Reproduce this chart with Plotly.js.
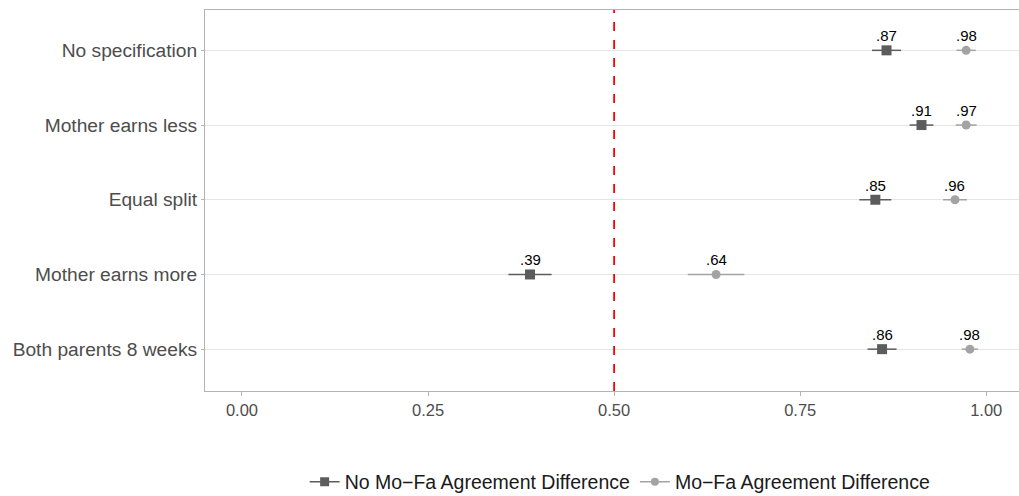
<!DOCTYPE html>
<html>
<head>
<meta charset="utf-8">
<script src="https://cdn.plot.ly/plotly-3.0.1.min.js"></script>
<style>html,body{margin:0;padding:0;background:#fff;}#chart{width:1019px;height:496px;}</style>
</head>
<body>
<div id="chart"></div>
<script>
const categories = ["Both parents 8 weeks", "Mother earns more", "Equal split", "Mother earns less", "No specification"];
const noDiffValues = [0.860, 0.387, 0.851, 0.913, 0.866];
const noDiffErr = [0.0195, 0.029, 0.0215, 0.016, 0.0195];
const noDiffLabels = [".86", ".39", ".85", ".91", ".87"];
const diffValues = [0.978, 0.637, 0.958, 0.973, 0.973];
const diffErr = [0.011, 0.038, 0.016, 0.014, 0.013];
const diffLabels = [".98", ".64", ".96", ".97", ".98"];
const xTicks = [0, 0.25, 0.5, 0.75, 1];
const xTickLabels = ["0.00", "0.25", "0.50", "0.75", "1.00"];
const seriesNames = ["No Mo\u2212Fa Agreement Difference", "Mo\u2212Fa Agreement Difference"];

const darkCol = "#5c5c5c";
const lightCol = "#a3a3a3";
const font = "Liberation Sans, Arial, sans-serif";

const traces = [
  {
    x: noDiffValues, y: categories, type: "scatter", mode: "markers",
    marker: {symbol: "square", size: 10, color: darkCol},
    error_x: {type: "data", array: noDiffErr, color: darkCol, thickness: 1.5, width: 0},
    showlegend: false, hoverinfo: "x+y"
  },
  {
    x: diffValues, y: categories, type: "scatter", mode: "markers",
    marker: {symbol: "circle", size: 9, color: lightCol},
    error_x: {type: "data", array: diffErr, color: lightCol, thickness: 1.5, width: 0},
    showlegend: false, hoverinfo: "x+y"
  },
  {
    x: [null], y: [null], type: "scatter", mode: "lines+markers", name: seriesNames[0],
    line: {color: darkCol, width: 1.5}, marker: {symbol: "square", size: 9, color: darkCol}
  },
  {
    x: [null], y: [null], type: "scatter", mode: "lines+markers", name: seriesNames[1],
    line: {color: lightCol, width: 1.5}, marker: {symbol: "circle", size: 8, color: lightCol}
  }
];

const annotations = [];
function addLabels(xs, labels) {
  xs.forEach((v, i) => {
    annotations.push({
      x: v, y: categories[i], xref: "x", yref: "y", text: labels[i],
      showarrow: false, xanchor: "center", yanchor: "bottom", yshift: 4,
      font: {family: font, size: 15, color: "#000"}
    });
  });
}
addLabels(noDiffValues, noDiffLabels);
addLabels(diffValues, diffLabels);

const layout = {
  width: 1019, height: 496,
  margin: {l: 205, r: 0, t: 10, b: 105, autoexpand: false},
  paper_bgcolor: "#fff", plot_bgcolor: "#fff",
  font: {family: font, size: 15, color: "#4d4d4d"},
  xaxis: {
    range: [-0.0497, 1.044], tickvals: xTicks, ticktext: xTickLabels,
    showgrid: false, zeroline: false,
    showline: true, mirror: true, linecolor: "#b3b3b3", linewidth: 1,
    ticks: "outside", ticklen: 4, tickcolor: "#b3b3b3",
    tickfont: {family: font, size: 16.5, color: "#4d4d4d"}
  },
  yaxis: {
    type: "category", categoryorder: "array", categoryarray: categories,
    range: [-0.56, 4.54],
    showgrid: true, gridcolor: "#e5e5e5", gridwidth: 1, zeroline: false,
    showline: true, linecolor: "#b3b3b3", linewidth: 1,
    ticks: "outside", ticklen: 3, tickcolor: "#b3b3b3",
    tickfont: {family: font, size: 19.2, color: "#4d4d4d"}
  },
  shapes: [{
    type: "line", xref: "x", yref: "paper", x0: 0.5, x1: 0.5, y0: 0, y1: 1,
    line: {color: "#ff0000", width: 1.8, dash: "dash"}
  }],
  annotations: annotations,
  legend: {
    orientation: "h", x: 0.51, xanchor: "center", y: -0.239, yanchor: "middle",
    font: {family: font, size: 19.5, color: "#1a1a1a"}, bgcolor: "rgba(0,0,0,0)",
    itemwidth: 30
  }
};

Plotly.newPlot("chart", traces, layout, {displayModeBar: false, staticPlot: true});
</script>
</body>
</html>
